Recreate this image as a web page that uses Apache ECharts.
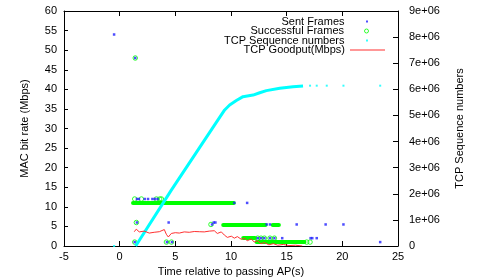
<!DOCTYPE html>
<html><head><meta charset="utf-8">
<script src="https://cdn.jsdelivr.net/npm/echarts@6/dist/echarts.min.js"></script>
<style>html,body{margin:0;padding:0;background:#fff}#c{width:485px;height:277px}</style>
</head><body><div id="c"></div>
<script>
// axis ranges / ticks
const xTicks = [-5, 25, 5];          // min, max, step
const yLeftTicks = [0, 60, 5];
const yRightTicks = [0, 9e6, 1e6];

// Sent frames (x = time s, y = MAC rate Mbps)
const sentFrames = [
  [-0.5,54],[1.4,48],
  [1.55,12],[1.73,12],[2.25,12],[2.55,12],[2.94,12],[3.15,12],[3.4,12],
  [10.3,11],[11.45,11],
  [1.55,6],[4.4,6],[8.3,5.5],[8.45,6],[8.6,6],
  [13.2,5.5],[13.5,5.5],[15.9,5.5],[18.5,5.5],[20.1,5.5],
  [12.4,2],[12.7,2],[13.0,2],[13.5,2],[13.9,2],[14.6,2],[17.15,2],[17.3,2],[17.7,2],
  [1.35,1],[4.25,1],[4.7,1],[23.4,1]
];
// Successful frames, isolated
const successFrames = [
  [1.4,48],
  [1.35,12],[1.95,12],[3.3,12],[3.6,12],[3.75,12],
  [1.5,6],[8.2,5.5],
  [12.4,2],[12.7,2],[13.0,2],[13.5,2],[13.9,2],
  [1.35,1],[4.2,1],[4.65,1],[16.8,1],[17.1,1]
];
// Successful frames, dense runs: [start, end, rate]
const successRuns = [
  [1.2,10.25,11],[9.3,13.1,5.5],[13.75,14.3,5.5],[11.1,12.15,2],[12.3,16.6,1]
];
// TCP sequence numbers (right axis)
const seqX = [1.44,4.64,7.04,8.83,9.43,9.88,10.48,11.08,11.98,12.58,13.18,14.38,15.57,16.47];
const seqY = [0,2.14e6,3.68e6,4.83e6,5.21e6,5.4e6,5.57e6,5.72e6,5.78e6,5.87e6,5.95e6,6.04e6,6.1e6,6.13e6];
const seqSparse = [[-0.5,0],[17.1,6.14e6],[17.7,6.14e6],[18.6,6.14e6],[20.1,6.14e6],[23.4,6.14e6]];
// TCP goodput (Mbps)
const goodputX = [1.31,1.49,1.76,2.2,2.66,3.1,3.56,4.01,4.19,4.37,4.64,5.0,5.36,5.8,6.25,6.7,7.15,7.6,8.05,8.5,8.77,9.13,9.4,9.67,10.03,10.3,10.57,10.93,11.2,11.46,11.82,12.09,12.37,12.7,13.0,13.4,13.8,14.2,14.7,15.2,15.8,16.4];
const goodputY = [3.65,4.3,3.6,3.8,3.3,3.5,3.65,4.2,3.0,2.3,3.2,3.4,3.3,3.6,3.5,3.7,3.65,3.6,3.8,3.9,3.2,3.6,2.8,2.2,2.5,2.0,2.4,1.7,2.0,1.35,1.8,1.0,1.35,0.6,0.9,0.3,0.6,0.2,0.4,0.1,0.2,0];

const FONT = "'Liberation Sans', Arial, sans-serif";
const FS = 11;
const NAMES = ['Sent Frames','Successful Frames','TCP Sequence numbers','TCP Goodput(Mbps)'];
const SQ = 'path://M0,0h1v1h-1z';

const chart = echarts.init(document.getElementById('c'), null, {renderer:'canvas'});
const axisCommon = {
  axisLine:{show:true,onZero:false,lineStyle:{color:'#000',width:1}},
  axisTick:{show:true,inside:true,length:5,lineStyle:{color:'#000'}},
  axisLabel:{color:'#000',fontSize:FS,fontFamily:FONT},
  splitLine:{show:false},
  nameTextStyle:{color:'#000',fontSize:FS,fontFamily:FONT}
};
function legendAt(item, top, h, right) {
  return {data:[item], orient:'vertical', align:'right', right:right, top:top,
    itemWidth:35, itemHeight:h, padding:0, selectedMode:false,
    textStyle:{fontSize:FS, fontFamily:FONT, color:'#000', lineHeight:10}};
}
chart.setOption({
  animation:false,
  backgroundColor:'#fff',
  grid:{left:64,right:87,top:11,bottom:31,outerBoundsMode:'none',containLabel:false},
  legend:[
    legendAt({name:NAMES[0], icon:SQ}, 16, 2, 117),
    legendAt({name:NAMES[1], icon:'circle', itemStyle:{color:'#fff',borderColor:'#00ff00',borderWidth:1}}, 25.5, 4, 116),
    legendAt({name:NAMES[2], icon:SQ}, 35, 2, 117),
    legendAt({name:NAMES[3], icon:'path://M0,0h35v1h-35z'}, 44.5, 1, 100)
  ],
  xAxis:[
    Object.assign({}, axisCommon, {type:'value',min:xTicks[0],max:xTicks[1],interval:xTicks[2],
      position:'bottom', name:'Time relative to passing AP(s)', nameLocation:'middle', nameGap:18,
      axisLabel:Object.assign({}, axisCommon.axisLabel, {margin:5})}),
    Object.assign({}, axisCommon, {type:'value',min:xTicks[0],max:xTicks[1],interval:xTicks[2],
      position:'top', axisLabel:{show:false}})
  ],
  yAxis:[
    Object.assign({}, axisCommon, {type:'value',min:yLeftTicks[0],max:yLeftTicks[1],interval:yLeftTicks[2],
      position:'left', name:'MAC bit rate (Mbps)', nameLocation:'middle', nameGap:34, nameRotate:90,
      axisTick:Object.assign({}, axisCommon.axisTick, {length:4}),
      axisLabel:Object.assign({}, axisCommon.axisLabel, {margin:7})}),
    Object.assign({}, axisCommon, {type:'value',min:yRightTicks[0],max:yRightTicks[1],interval:yRightTicks[2],
      position:'right', name:'TCP Sequence numbers', nameLocation:'middle', nameGap:56, nameRotate:90,
      axisLabel:Object.assign({}, axisCommon.axisLabel, {margin:11,
        formatter:function(v){return v===0?'0':(v/1e6)+'e+06';}})})
  ],
  series:[
    {name:NAMES[0], type:'scatter', xAxisIndex:0, yAxisIndex:0, data:sentFrames,
      symbol:'rect', symbolSize:2.5, itemStyle:{color:'#2020ff'}, z:3},
    {name:NAMES[1], type:'scatter', xAxisIndex:0, yAxisIndex:0, data:successFrames,
      symbol:'circle', symbolSize:4.5, itemStyle:{color:'rgba(255,255,255,0)',borderColor:'#00ff00',borderWidth:1}, z:2},
    {name:NAMES[1], type:'lines', coordinateSystem:'cartesian2d', xAxisIndex:0, yAxisIndex:0,
      data:successRuns.map(r=>({coords:[[r[0],r[2]],[r[1],r[2]]]})),
      lineStyle:{color:'#00ff00',width:4,opacity:1,cap:'round'}, z:2},
    {name:NAMES[2], type:'scatter', xAxisIndex:0, yAxisIndex:1, data:seqSparse,
      symbol:'rect', symbolSize:2, itemStyle:{color:'#00ffff'}, z:4},
    {name:NAMES[2], type:'line', xAxisIndex:0, yAxisIndex:1, data:seqX.map((x,i)=>[x,seqY[i]]),
      showSymbol:false, lineStyle:{color:'#00ffff',width:3}, itemStyle:{color:'#00ffff'}, z:4},
    {name:NAMES[3], type:'line', xAxisIndex:0, yAxisIndex:0, data:goodputX.map((x,i)=>[x,goodputY[i]]),
      showSymbol:false, lineStyle:{color:'#ff3030',width:1}, itemStyle:{color:'#ff3030'}, z:5}
  ]
});
</script></body></html>
